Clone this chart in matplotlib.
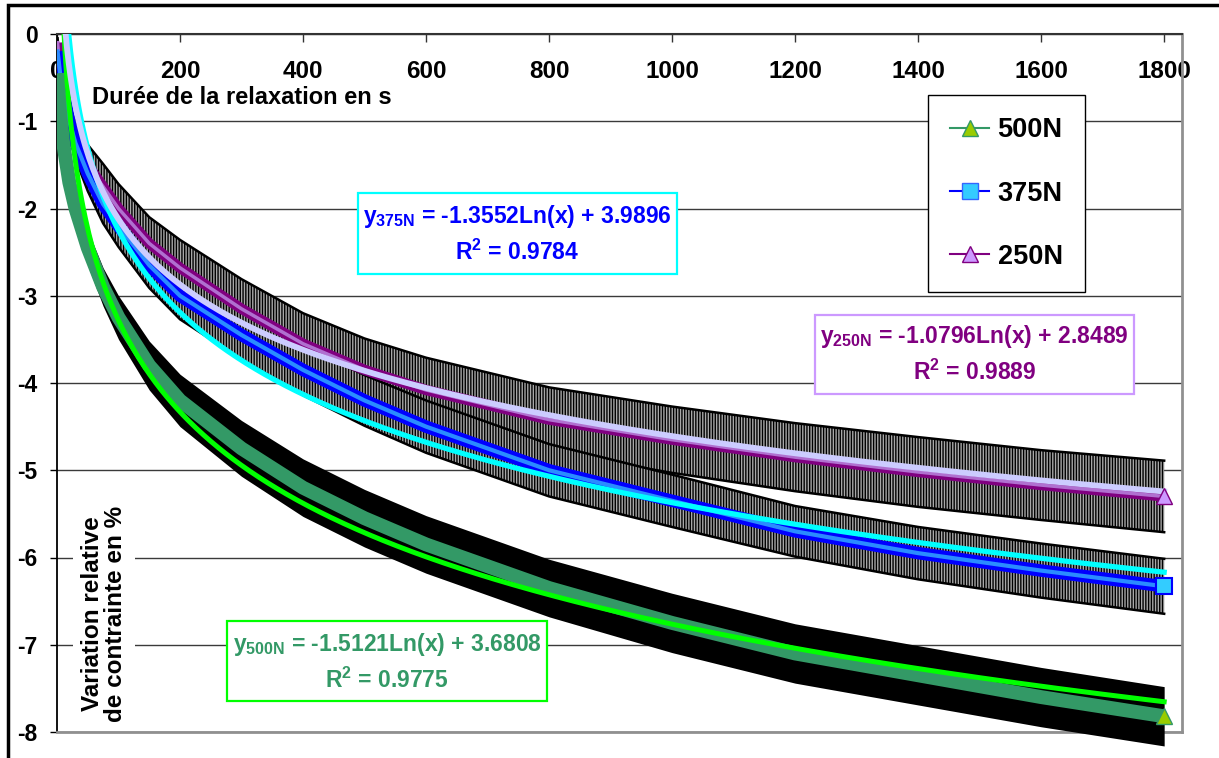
import matplotlib
matplotlib.use("Agg")
import matplotlib.pyplot as plt
from matplotlib.lines import Line2D
from matplotlib.patches import Rectangle
import numpy as np

plt.rcParams["font.family"] = ["Liberation Sans", "DejaVu Sans"]
plt.rcParams["font.weight"] = "bold"
plt.rcParams["axes.unicode_minus"] = False
plt.rcParams["hatch.color"] = "black"
plt.rcParams["hatch.linewidth"] = 1.0

W, H = 1219, 758

# relaxation time (s) and relative stress variation (%)
t = [1, 5, 10, 20, 30, 50, 75, 100, 150, 200, 300, 400, 500, 600, 800, 1000, 1200, 1400, 1600, 1800]
v500 = [-0.45, -0.9, -1.25, -1.7, -2.0, -2.45, -2.9, -3.25, -3.8, -4.2, -4.75, -5.2, -5.55, -5.85,
        -6.35, -6.75, -7.1, -7.35, -7.6, -7.82]
sd500 = [0.05, 0.1, 0.12, 0.15, 0.18, 0.2, 0.22, 0.25, 0.28, 0.3, 0.32, 0.33, 0.33, 0.33,
         0.33, 0.34, 0.34, 0.34, 0.34, 0.34]
v375 = [-0.2, -0.45, -0.65, -1.0, -1.25, -1.6, -1.95, -2.2, -2.65, -3.0, -3.45, -3.85, -4.2, -4.5,
        -5.0, -5.35, -5.7, -5.95, -6.15, -6.33]
sd375 = [0.05, 0.1, 0.12, 0.15, 0.18, 0.2, 0.22, 0.24, 0.26, 0.27, 0.28, 0.29, 0.29, 0.3,
         0.3, 0.3, 0.29, 0.3, 0.31, 0.315]
v250 = [-0.1, -0.45, -0.7, -1.0, -1.2, -1.5, -1.75, -2.0, -2.4, -2.68, -3.15, -3.55, -3.85, -4.08,
        -4.42, -4.65, -4.85, -5.02, -5.17, -5.30]
sd250 = [0.05, 0.1, 0.13, 0.17, 0.2, 0.23, 0.26, 0.28, 0.3, 0.32, 0.34, 0.35, 0.36, 0.37,
         0.37, 0.38, 0.39, 0.4, 0.4, 0.41]

# log trend lines y = a*ln(x) + b as printed on the chart
labels = ["500N", "375N", "250N"]
coef_a = [-1.5121, -1.3552, -1.0796]
coef_b = [3.6808, 3.9896, 2.8489]
r2 = ["0.9775", "0.9784", "0.9889"]

xticks = [0, 200, 400, 600, 800, 1000, 1200, 1400, 1600, 1800]
yticks = [0, -1, -2, -3, -4, -5, -6, -7, -8]


def fx(px):
    return px / W


def fy(py):
    return 1 - py / H


fig = plt.figure(figsize=(W / 100, H / 100), dpi=100)
ax = fig.add_axes([fx(57), fy(732), fx(1182) - fx(57), fy(34) - fy(732)])
ax.set_xlim(0, 1829)
ax.set_ylim(-8, 0)

t_arr = np.array(t, dtype=float)
tt = np.linspace(1, 1800, 600)

# error bars (dense in the original -> drawn as hatched bands)
for v, sd, solid, z in [(v250, sd250, False, 2), (v375, sd375, False, 3), (v500, sd500, True, 4)]:
    v = np.array(v); sd = np.array(sd)
    if solid:
        ax.fill_between(t_arr, v - sd, v + sd, color="black", lw=0, zorder=z, clip_on=False)
    else:
        ax.fill_between(t_arr, v - sd, v + sd, facecolor="#a8a8a8", edgecolor="black",
                        hatch="||||||", lw=0, zorder=z)
        ax.plot(t_arr, v + sd, color="black", lw=1.8, zorder=z)
        ax.plot(t_arr, v - sd, color="black", lw=1.8, zorder=z)

# data series (markers so dense they form a band)
ax.plot(t_arr, v250, color="#800080", lw=7.5, solid_capstyle="butt", zorder=5)
ax.plot(t_arr, v250, color="#b070d0", lw=2.5, zorder=5)
ax.plot(t_arr, v375, color="#0000ff", lw=9, solid_capstyle="butt", zorder=5)
ax.plot(t_arr, v375, color="#2a8cff", lw=3, zorder=5)
ax.plot(t_arr, v500, color="#339966", lw=10, solid_capstyle="butt", zorder=5)

ax.plot(t_arr[-1], v500[-1], marker="^", ms=12, mfc="#99cc00", mec="#339966", zorder=7, clip_on=False)
ax.plot(t_arr[-1], v375[-1], marker="s", ms=12, mfc="#33ccff", mec="#0000ff", mew=1.5, zorder=7, clip_on=False)
ax.plot(t_arr[-1], v250[-1], marker="^", ms=12, mfc="#cc99ff", mec="#800080", zorder=7, clip_on=False)

# trend lines
trend_cols = ["#00ff00", "#00ffff", "#ccccff"]
trend_lw = [3.6, 3.8, 4.2]
for a, b, c, lw in zip(coef_a, coef_b, trend_cols, trend_lw):
    ax.plot(tt, a * np.log(tt) + b, color=c, lw=lw, zorder=6)

# axes styling (Excel look)
ax.set_yticks(yticks)
ax.set_yticklabels([str(y) for y in yticks])
ax.set_xticks(xticks)
ax.set_xticklabels([str(x) for x in xticks])
ax.grid(axis="y", color="#3a3a3a", lw=1.0, zorder=0)
ax.set_axisbelow(True)
ax.xaxis.set_ticks_position("top")
ax.tick_params(axis="x", top=True, bottom=False, labeltop=True, labelbottom=False,
               direction="in", length=6, width=1, color="#333333", pad=-35, labelsize=17.5)
ax.tick_params(axis="y", direction="out", length=5, width=1, pad=9, labelsize=16.5)
for lab in ax.get_xticklabels() + ax.get_yticklabels():
    lab.set_fontweight("bold")
ax.spines["top"].set_color("#333333"); ax.spines["top"].set_linewidth(1.5)
ax.spines["left"].set_color("black"); ax.spines["left"].set_linewidth(1.3)
ax.spines["right"].set_color("#909090"); ax.spines["right"].set_linewidth(2)
ax.spines["bottom"].set_color("#909090"); ax.spines["bottom"].set_linewidth(2)

fig.text(fx(92), fy(97), "Durée de la relaxation en s", ha="left", va="center",
         fontsize=17, fontweight="bold")
ax.text(fx(104), fy(614), "Variation relative\nde contrainte en %", transform=fig.transFigure,
        rotation=90, ha="center", va="center", multialignment="center", fontsize=17.5,
        fontweight="bold", linespacing=1.0, zorder=8,
        bbox=dict(facecolor="white", edgecolor="none", pad=6))

# equation boxes
boxes = [  # (x0, y0, x1, y1) px, line1 y, line2 y
    ((227, 621, 547, 701), 645, 680, "#339966", "#00ff00"),
    ((358, 193, 677, 274), 217, 252, "#0000ff", "#00ffff"),
    ((815, 315, 1134, 394), 337, 372, "#800080", "#cc99ff"),
]
for (lab, a, b, r), ((x0, y0, x1, y1), l1, l2, tc, ec) in zip(zip(labels, coef_a, coef_b, r2), boxes):
    ax.add_patch(Rectangle((fx(x0), fy(y1)), fx(x1) - fx(x0), fy(y0) - fy(y1), transform=fig.transFigure,
                           facecolor="white", edgecolor=ec, lw=1.6, zorder=9, clip_on=False))
    xc = (x0 + x1) / 2
    ax.text(fx(xc), fy(l1), "y$_{\\mathregular{%s}}$ = %.4fLn(x) + %.4f" % (lab, a, b),
            transform=fig.transFigure, ha="center", va="center", color=tc, fontsize=16.5,
            fontweight="bold", zorder=10)
    ax.text(fx(xc), fy(l2), "R$^{\\mathregular{2}}$ = %s" % r, transform=fig.transFigure,
            ha="center", va="center", color=tc, fontsize=16.5, fontweight="bold", zorder=10)

# legend
handles = [
    Line2D([], [], color="#339966", lw=1.5, marker="^", ms=11, mfc="#99cc00", mec="#339966"),
    Line2D([], [], color="#0000ff", lw=1.5, marker="s", ms=11, mfc="#33ccff", mec="#3366ff"),
    Line2D([], [], color="#800080", lw=1.5, marker="^", ms=11, mfc="#cc99ff", mec="#800080"),
]
leg = fig.legend(handles, labels, loc="upper left", bbox_to_anchor=(fx(928), fy(95)),
                 bbox_transform=fig.transFigure, borderaxespad=0, frameon=True,
                 fancybox=False, edgecolor="black", framealpha=1, labelspacing=1.38,
                 handlelength=1.45, handletextpad=0.3, borderpad=0.82,
                 prop={"weight": "bold", "size": 19.5})
leg.get_frame().set_linewidth(1.0)
leg.set_zorder(11)

# chart-area frame (cropped at right and bottom)
fig.add_artist(Rectangle((fx(8), -0.2), 2, fy(5) + 0.2, transform=fig.transFigure,
                         fill=False, edgecolor="black", lw=2.5))

fig.savefig("out.png", dpi=100)
